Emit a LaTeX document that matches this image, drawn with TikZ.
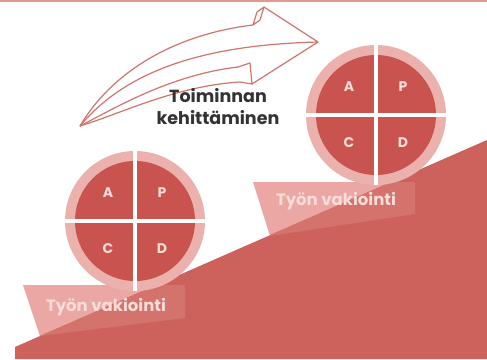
\documentclass[tikz,border=0pt]{standalone}
\usepackage{fontspec}
\setmainfont{Poppins}
\usetikzlibrary{calc}
\definecolor{mainred}{HTML}{CD615B}
\definecolor{circred}{HTML}{C9534E}
\definecolor{ringpink}{HTML}{EBB1AD}
\definecolor{labelpink}{HTML}{EAA7A3}
\definecolor{labelover}{HTML}{D4726C}
\definecolor{lettercol}{HTML}{F7DCD8}
\definecolor{arrowcol}{HTML}{D0756D}
\definecolor{topline}{HTML}{E3998F}
\definecolor{darktext}{HTML}{333333}
\tikzset{
  ring/.style={circle, fill=ringpink, minimum size=140pt, inner sep=0pt},
  core/.style={circle, fill=circred, minimum size=120pt, inner sep=0pt},
  letter/.style={text=lettercol, font=\bfseries\fontsize{14}{14}\selectfont, inner sep=0pt},
  labeltext/.style={text=lettercol, font=\bfseries\fontsize{16.5}{16.5}\selectfont, inner sep=0pt},
  arrowline/.style={draw=arrowcol, line width=1.2pt, line join=round},
  gap/.style={draw=white, line width=4pt},
}
\begin{document}
\begin{tikzpicture}[x=1pt,y=-1pt]
\useasboundingbox (0,0) rectangle (487,359);
\fill[white] (0,0) rectangle (487,359);
\fill[topline] (0,0) rectangle (487,2);
% labels under the slope
\fill[labelpink] (23,285) -- (185,285) -- (185,318) -- (40,336) -- cycle;
\fill[labelpink] (253,182) -- (415,182) -- (415,214) -- (270,236) -- cycle;
% slope
\fill[mainred] (15,347) -- (487,140) -- (487,359) -- (15,359) -- cycle;
\begin{scope}
  \clip (15,347) -- (487,140) -- (487,359) -- (15,359) -- cycle;
  \fill[labelover] (23,285) -- (185,285) -- (185,318) -- (40,336) -- cycle;
  \fill[labelover] (253,182) -- (415,182) -- (415,214) -- (270,236) -- cycle;
\end{scope}
\node[labeltext] (l1) at (106,307) {Työn vakiointi};
\node[labeltext] (l2) at (336,201) {Työn vakiointi};
% PDCA circles
\foreach \n/\cx/\cy in {L/135/221, R/376/115}{
  \node[ring] (\n ring) at (\cx,\cy) {};
  \node[core] (\n core) at (\cx,\cy) {};
  \draw[gap] (\n ring.west) -- (\n ring.east);
  \draw[gap] (\n ring.north) -- (\n ring.south);
  \node[letter] (\n A) at ($(\n core)+(-27,-28)$) {A};
  \node[letter] (\n P) at ($(\n core)+(27,-28)$) {P};
  \node[letter] (\n C) at ($(\n core)+(-27,28)$) {C};
  \node[letter] (\n D) at ($(\n core)+(27,28)$) {D};
}
% curved 3D arrow
\coordinate (tail) at (80,126);
\coordinate (tip) at (318,42);
\draw[arrowline] (tail) .. controls (110,75) and (170,35) .. (253,25);
\draw[arrowline] (253,25) -- (257,12) -- (264,7) -- (260,20) -- cycle;
\draw[arrowline] (264,7) -- (tip) -- (252,84);
\draw[arrowline] (tail) .. controls (125,72) and (200,45) .. (tip);
\draw[arrowline] (tail) .. controls (115,108) and (170,75) .. (238,67);
\draw[arrowline] (tail) .. controls (120,114) and (175,86) .. (240,82);
\draw[arrowline] (238,67) -- (250,63) -- (252,84) -- (240,82);
\node[text=darktext, font=\bfseries\fontsize{17.5}{22}\selectfont, align=center] (title) at (218,106.5) {Toiminnan\\kehittäminen};
\end{tikzpicture}
\end{document}
